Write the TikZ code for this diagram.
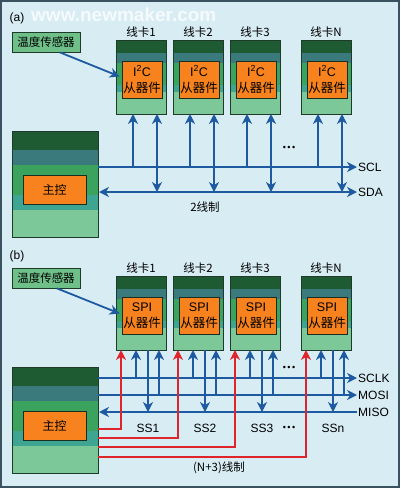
\documentclass[tikz,border=0pt]{standalone}
\usepackage{fontspec}
\setmainfont{Liberation Sans}
\newfontfamily\cjk{Noto Sans CJK SC}
\usetikzlibrary{arrows.meta}
\definecolor{bg}{HTML}{D8ECF4}
\definecolor{frame}{HTML}{3A5260}
\definecolor{cdark}{HTML}{1E5A32}
\definecolor{ctealb}{HTML}{3B7A7C}
\definecolor{cgreen}{HTML}{3BA35E}
\definecolor{cteal}{HTML}{3DA592}
\definecolor{clight}{HTML}{7DC898}
\definecolor{corange}{HTML}{F7821E}
\definecolor{csens}{HTML}{6EBF88}
\definecolor{edge}{HTML}{1E3A28}
\definecolor{cblue}{HTML}{1D5AA0}
\definecolor{cred}{HTML}{E0242C}
\tikzset{
  tip/.tip={Stealth[length=10pt,width=10pt,inset=3.2pt]},
  bus/.style={draw=cblue,line width=1.8pt},
  sel/.style={draw=cred,line width=1.8pt},
  cardframe/.style={draw=edge,line width=0.8pt,minimum width=50pt,minimum height=74pt,inner sep=0pt},
  masterframe/.style={draw=edge,line width=0.8pt,minimum width=86pt,minimum height=106pt,inner sep=0pt},
  chip/.style={draw=edge!80!black,line width=0.7pt,fill=corange,minimum width=40pt,minimum height=37pt,inner sep=0pt,align=center,font=\fontsize{12.5}{16}\selectfont},
  mchip/.style={draw=edge!80!black,line width=0.7pt,fill=corange,minimum width=63pt,minimum height=29pt,inner sep=0pt,font=\cjk\fontsize{12}{14}\selectfont},
  sensor/.style={draw=edge,line width=0.8pt,fill=csens,minimum width=68pt,minimum height=20pt,inner sep=0pt,font=\cjk\fontsize{11.5}{14}\selectfont},
  cjklab/.style={inner sep=1pt,font=\cjk\fontsize{11.5}{14}\selectfont},
  latlab/.style={inner sep=1pt,font=\fontsize{12}{14}\selectfont},
  dots/.style={inner sep=1pt,font=\fontsize{9}{10}\selectfont},
}
\newcommand{\linecard}[5]{% x, ytop, name, label, chip text
  \fill[cdark] (#1,#2) rectangle ++(50,13);
  \fill[ctealb] (#1,#2+13) rectangle ++(50,10);
  \fill[cgreen] (#1,#2+23) rectangle ++(50,22);
  \fill[cteal] (#1,#2+45) rectangle ++(50,7);
  \fill[clight] (#1,#2+52) rectangle ++(50,22);
  \node[cardframe,anchor=north west] (#3) at (#1,#2) {};
  \node[chip] (#3chip) at (#1+26,#2+39.5) {#5};
  \node[cjklab] (#3lab) at (#1+25,#2-8) {#4};
  \coordinate (#3p5) at (#1+5,#2+74);
  \coordinate (#3p17) at (#1+17,#2+74);
  \coordinate (#3p20) at (#1+20,#2+74);
  \coordinate (#3p32) at (#1+32,#2+74);
  \coordinate (#3p41) at (#1+41,#2+74);
  \coordinate (#3p43) at (#1+43,#2+74);
}
\newcommand{\mastercard}[2]{% ytop, name
  \fill[cdark] (12,#1) rectangle ++(86,19);
  \fill[ctealb] (12,#1+19) rectangle ++(86,15);
  \fill[cgreen] (12,#1+34) rectangle ++(86,30);
  \fill[cteal] (12,#1+64) rectangle ++(86,15);
  \fill[clight] (12,#1+79) rectangle ++(86,27);
  \node[masterframe,anchor=north west] (#2) at (12,#1) {};
  \node[mchip] (#2chip) at (54.5,#1+58.5) {主控};
}
\begin{document}
\begin{tikzpicture}[x=1pt,y=-1pt]
\useasboundingbox (0,0) rectangle (400,488);
\fill[bg] (0,0) rectangle (400,488);
\draw[frame,line width=2pt] (1,1) rectangle (399,487);
\node[text=white,opacity=0.75,font=\bfseries\fontsize{19}{20}\selectfont,inner sep=0,anchor=west] (wm) at (31,15) {www.newmaker.com};

% ---------------- (a) ----------------
\node[latlab] (labA) at (17,18) {(a)};
\node[sensor] (sensA) at (46,42) {温度传感器};
\linecard{116}{40}{a1}{线卡1}{I\textsuperscript{2}C\\{\cjk 从器件}}
\linecard{173}{40}{a2}{线卡2}{I\textsuperscript{2}C\\{\cjk 从器件}}
\linecard{230}{40}{a3}{线卡3}{I\textsuperscript{2}C\\{\cjk 从器件}}
\linecard{301}{40}{aN}{线卡N}{I\textsuperscript{2}C\\{\cjk 从器件}}
\mastercard{131}{mA}
\draw[bus,-{tip}] ([xshift=14pt]sensA.south) -- ([xshift=-2pt,yshift=3pt]a1chip.west);
\coordinate (sclL) at (98,167);
\coordinate (sclR) at (357,167);
\coordinate (sdaL) at (99,192);
\coordinate (sdaR) at (357,192);
\draw[bus,-{tip}] (sclL) -- (sclR);
\draw[bus,{tip}-{tip}] (sdaL) -- (sdaR);
\node[latlab,anchor=west] (sclT) at (sclR) {SCL};
\node[latlab,anchor=west] (sdaT) at (sdaR) {SDA};
\foreach \n in {a1,a2,a3,aN}{
  \draw[bus,-{tip}] (\n p17 |- sclL) -- (\n p17);
  \draw[bus,{tip}-{tip}] (\n p41 |- sdaL) -- (\n p41);
}
\node[dots] (dotsA) at (289,148) {•\,•\,•};
\node[cjklab] (wireA) at (205,207) {2线制};

% ---------------- (b) ----------------
\node[latlab] (labB) at (17,256) {(b)};
\node[sensor] (sensB) at (46,278) {温度传感器};
\linecard{116}{276}{b1}{线卡1}{SPI\\{\cjk 从器件}}
\linecard{173}{276}{b2}{线卡2}{SPI\\{\cjk 从器件}}
\linecard{230}{276}{b3}{线卡3}{SPI\\{\cjk 从器件}}
\linecard{301}{276}{bN}{线卡N}{SPI\\{\cjk 从器件}}
\mastercard{367}{mB}
\draw[bus,-{tip}] ([xshift=11pt]sensB.south) -- ([xshift=-2pt,yshift=2pt]b1chip.west);
\coordinate (sckL) at (98,378);
\coordinate (sckR) at (357,378);
\coordinate (mosL) at (98,395);
\coordinate (mosR) at (357,395);
\coordinate (misL) at (99,412);
\coordinate (misR) at (357,412);
\draw[bus,-{tip}] (sckL) -- (sckR);
\draw[bus,-{tip}] (mosL) -- (mosR);
\draw[bus,-{tip}] (misR) -- (misL);
\node[latlab,anchor=west] (sckT) at (sckR) {SCLK};
\node[latlab,anchor=west] (mosT) at (mosR) {MOSI};
\node[latlab,anchor=west] (misT) at (misR) {MISO};
\coordinate (ss1) at (98,429);
\coordinate (ss2) at (98,438);
\coordinate (ss3) at (98,447);
\coordinate (ssN) at (98,457);
\draw[sel,-{tip}] (ss1) -| (b1p5);
\draw[sel,-{tip}] (ss2) -| (b2p5);
\draw[sel,-{tip}] (ss3) -| (b3p5);
\draw[sel,-{tip}] (ssN) -| (bNp5);
\foreach \n in {b1,b2,b3,bN}{
  \draw[bus,-{tip}] (\n p20 |- sckL) -- (\n p20);
  \draw[bus,-{tip}] (\n p43 |- mosL) -- (\n p43);
  \draw[bus,-{tip}] (\n p32) -- (\n p32 |- misL);
}
\node[latlab] (ssT1) at ([yshift=-16pt]b1p32 |- misL) {SS1};
\node[latlab] (ssT2) at ([yshift=-16pt]b2p32 |- misL) {SS2};
\node[latlab] (ssT3) at ([yshift=-16pt]b3p32 |- misL) {SS3};
\node[latlab] (ssTN) at ([yshift=-16pt]bNp32 |- misL) {SSn};
\node[dots] (dotsB1) at (289,368) {•\,•\,•};
\node[dots] (dotsB2) at (289,428) {•\,•\,•};
\node[cjklab] (wireB) at (219,468) {(N+3)线制};
\end{tikzpicture}
\end{document}
